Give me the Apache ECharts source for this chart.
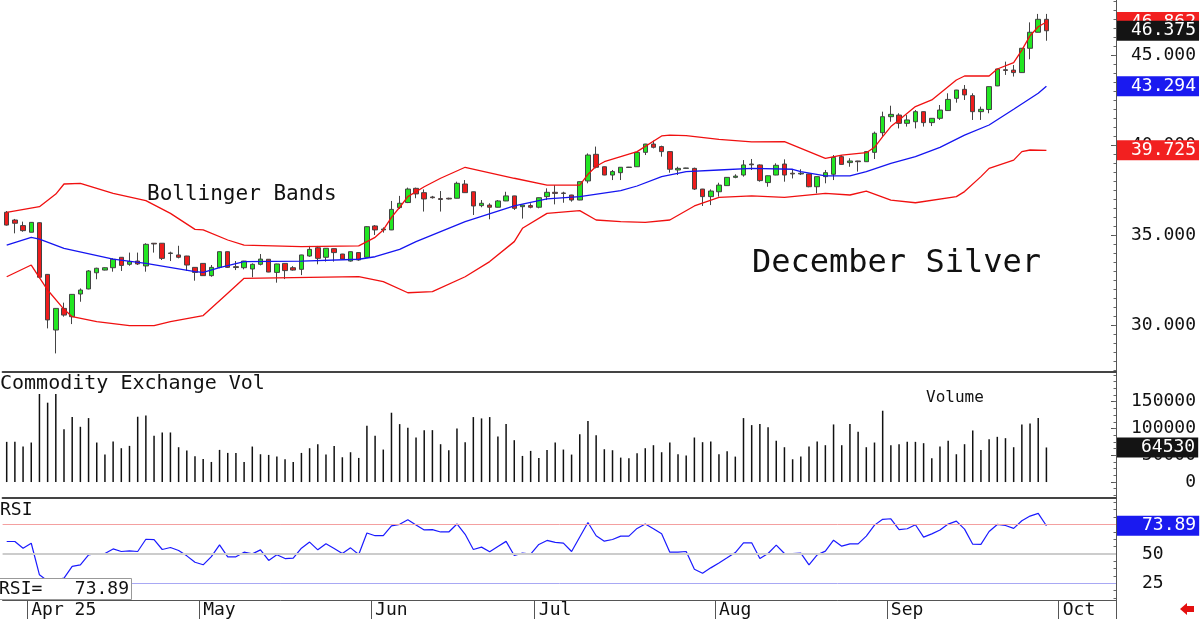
<!DOCTYPE html>
<html>
<head>
<meta charset="utf-8">
<script src="https://cdn.jsdelivr.net/npm/echarts@6/dist/echarts.min.js"></script>
<style>
  html, body { margin: 0; padding: 0; background: #fff; }
  #chart { width: 1200px; height: 619px; }
</style>
</head>
<body>
<div id="chart"></div>
<script>
// December Silver, daily bars (Mar 27 .. Sep 29 2025)
const open = [36.29,35.86,35.55,35.18,35.71,32.84,29.75,30.95,30.49,31.75,32.03,32.93,33.08,33.21,33.79,33.40,33.58,33.31,34.57,34.57,
  34.00,33.92,33.86,33.23,33.45,32.77,33.23,34.10,33.27,33.21,33.14,33.40,33.68,32.95,33.45,33.21,33.12,33.86,34.32,33.79,
  34.27,33.97,33.58,34.05,33.79,35.53,35.31,35.31,36.55,36.83,37.62,37.38,37.14,37.05,37.07,37.07,37.86,37.43,36.66,36.69,
  36.57,36.92,37.20,36.60,36.66,36.57,37.16,37.40,37.36,37.25,36.97,38.03,39.51,38.82,38.36,38.49,38.80,38.82,39.62,40.08,
  39.94,39.66,38.64,38.73,38.73,37.58,37.16,37.43,37.77,38.23,38.36,38.97,38.92,37.94,38.36,38.97,38.46,38.42,38.42,37.71,
  38.27,38.40,39.38,39.05,39.14,39.10,39.62,40.71,41.60,41.69,41.23,41.32,41.88,41.27,41.51,41.94,42.62,43.12,42.77,41.88,
  42.00,43.31,44.21,44.19,44.05,45.40,46.29,47.01];
const close = [35.58,35.68,35.27,35.73,32.68,30.31,30.95,30.58,31.73,31.97,33.03,33.18,33.21,33.68,33.34,33.55,33.42,34.51,34.53,33.73,
  34.03,33.79,33.36,32.95,32.77,33.23,34.10,33.23,33.22,33.58,33.40,33.69,32.97,33.42,33.05,33.08,33.92,34.23,33.73,34.29,
  34.05,33.69,34.10,33.64,35.49,35.31,35.36,36.45,36.79,37.58,37.31,37.03,37.10,37.00,37.03,37.90,37.38,36.64,36.79,36.57,
  36.92,37.20,36.51,36.69,36.57,37.10,37.40,37.34,37.34,36.97,37.99,39.47,38.79,38.36,38.55,38.79,38.78,39.62,40.08,39.90,
  39.66,38.68,38.73,38.75,37.58,37.16,37.47,37.80,38.23,38.30,38.92,38.93,38.05,38.32,38.90,38.36,38.42,38.46,37.71,38.27,
  38.49,39.34,38.95,39.14,39.10,39.66,40.68,41.60,41.73,41.23,41.42,41.88,41.27,41.51,41.97,42.56,43.08,42.81,41.88,42.01,
  43.27,44.25,44.17,44.05,45.40,46.29,47.01,46.375];
const low = [35.55,35.12,35.21,35.18,32.62,29.84,28.45,30.49,30.08,31.32,32.01,32.57,33.06,32.99,33.03,33.32,33.36,32.99,34.05,33.64,
  33.58,33.73,33.03,32.49,32.76,32.71,33.18,33.20,33.08,33.12,32.68,33.34,32.96,32.38,32.58,33.05,32.80,33.82,33.40,33.55,
  33.55,33.68,33.55,33.60,33.78,35.03,35.16,35.30,36.47,36.80,37.07,36.33,37.05,36.33,37.00,37.06,37.37,36.14,36.57,35.90,
  36.56,36.91,36.42,35.94,36.51,36.51,36.97,36.73,36.82,36.88,36.96,37.90,38.73,38.35,38.08,38.08,38.76,38.81,39.47,39.84,
  39.38,38.49,38.36,38.72,37.53,36.64,36.69,37.16,37.75,38.18,38.27,38.64,37.99,37.71,38.35,37.99,38.17,38.36,37.68,37.34,
  37.90,38.08,38.94,38.82,38.55,39.09,39.25,40.49,41.32,40.95,41.05,40.95,41.05,41.08,41.42,41.93,42.38,42.53,41.42,41.42,
  41.79,43.30,43.92,43.83,44.04,44.79,46.28,45.82];
const high = [36.36,35.92,35.77,35.75,35.73,32.86,30.97,31.27,31.75,32.06,33.08,33.21,33.23,33.73,33.80,34.05,34.05,34.57,34.58,34.58,
  34.10,34.43,33.87,33.24,33.46,33.36,34.11,34.11,33.58,33.59,33.45,33.97,33.69,33.43,33.46,33.30,33.93,34.42,34.42,34.30,
  34.28,33.98,34.11,34.06,35.52,35.58,35.45,36.92,37.20,37.66,37.66,37.56,37.20,37.47,37.10,37.99,38.08,37.44,36.97,36.79,
  36.97,37.43,37.21,36.70,36.79,37.11,37.62,37.80,37.43,37.26,38.00,39.56,39.94,38.83,38.64,38.80,38.81,39.63,40.09,40.27,
  39.99,39.67,38.82,38.76,38.77,37.59,37.56,37.93,38.24,38.40,39.19,39.25,38.95,38.33,39.01,39.23,38.64,38.68,38.43,38.28,
  38.64,39.47,39.47,39.29,39.15,39.67,40.77,41.88,42.21,41.79,41.69,41.97,41.89,41.52,42.25,42.90,43.09,43.36,42.90,42.16,
  43.28,44.26,44.66,44.47,45.41,46.84,47.31,47.31];

// Bollinger bands: [bar index, value]
const upperBand = [[0,36.29],[4,36.6],[6,37.3],[7,37.86],[9,37.9],[13,37.34],[17,36.94],[20,36.23],[23,35.34],[24,35.31],
  [27,34.75],[29,34.47],[36,34.38],[43,34.42],[45,34.9],[46,35.31],[47,36.01],[48,36.57],[49,37.16],[51,37.71],[53,38.18],
  [56,38.79],[62,38.18],[66,37.8],[70,37.8],[71,38.4],[72,38.85],[73,39.1],[77,39.66],[80,40.53],[81,40.58],[83,40.55],
  [87,40.34],[91,40.2],[95,40.21],[100,39.29],[102,39.47],[105,39.6],[106,39.9],[107,40.49],[108,41.05],[109,41.42],
  [111,42.16],[113,42.53],[116,43.64],[117,43.86],[120,43.86],[121,44.25],[123,44.6],[124,45.3],[125,46.1],[126,46.6],[127,46.862]];
const middleBand = [[0,34.47],[3,34.9],[4,34.8],[7,34.29],[13,33.69],[17,33.45],[23,32.99],[24,32.95],[26,33.21],[29,33.55],
  [36,33.58],[43,33.68],[45,33.82],[48,34.23],[50,34.66],[56,35.77],[62,36.64],[66,37.03],[70,37.16],[75,37.49],[77,37.75],
  [80,38.27],[83,38.55],[87,38.64],[91,38.73],[96,38.68],[97,38.55],[100,38.31],[103,38.31],[105,38.55],[108,39.01],
  [111,39.38],[114,39.9],[117,40.58],[120,41.14],[123,42.01],[126,42.9],[127,43.294]];
const lowerBand = [[0,32.71],[3,33.36],[5,31.97],[7,30.9],[8,30.49],[11,30.21],[15,29.99],[18,29.99],[20,30.21],[24,30.55],
  [27,31.79],[29,32.62],[43,32.71],[46,32.44],[49,31.82],[52,31.88],[56,32.71],[59,33.55],[62,34.66],[63,35.4],[66,36.23],
  [70,36.38],[72,35.86],[75,35.77],[78,35.73],[81,35.86],[84,36.64],[87,37.12],[91,37.2],[95,37.12],[100,37.34],[103,37.25],
  [105,37.47],[108,36.97],[111,36.82],[116,37.16],[117,37.44],[119,38.27],[120,38.73],[123,39.19],[124,39.66],[125,39.75],[127,39.725]];

const volume = [75000,75000,66250,73750,164375,148125,164375,98750,121250,103125,119375,73750,51250,75625,63125,67500,121875,124375,86250,92500,
  92500,65000,58750,48125,43125,37500,60000,54375,54375,37500,66250,51875,50625,47500,42500,37500,54375,63125,70625,51250,
  67500,46250,55625,45000,105000,86250,60625,129375,108125,101250,83125,96875,96875,70625,59375,100000,74375,121250,118750,121250,
  85000,108125,78125,48750,58125,45000,60000,73750,60625,51250,89375,113750,87500,61250,59375,45625,44375,53750,63125,68750,
  55625,73750,51875,49375,83125,74375,75625,51875,57500,47500,119375,106250,108125,102500,76875,65000,42500,47500,66250,75625,
  68750,107500,68750,108125,93750,65000,73750,133125,68750,70625,75000,75000,72500,44375,66250,76875,51875,70625,96250,60000,
  80000,84375,81875,65000,107500,109375,119375,64530];

const rsi = [60.5,60.5,54.8,59.0,32.2,27.0,28.0,29.4,39.3,40.7,49.2,50.3,50.3,54.2,52.0,52.5,52.0,62.4,62.1,53.7,
  55.4,52.8,48.3,42.9,40.7,47.7,57.6,47.5,47.5,51.4,50.0,53.4,44.4,49.2,46.0,46.3,54.8,60.0,53.4,58.6,
  54.6,50.3,55.1,49.4,67.7,65.4,65.4,73.7,75.1,78.9,74.6,70.3,70.6,68.6,68.6,75.4,66.6,53.7,55.7,51.7,
  56.3,60.6,48.6,50.6,49.7,58.0,61.4,59.7,59.1,52.0,64.3,76.6,65.4,60.8,62.2,65.1,65.1,71.6,75.3,71.3,
  67.0,51.4,51.4,52.0,36.9,33.5,38.1,42.3,46.6,51.1,59.4,59.4,46.0,50.3,57.4,50.3,50.3,50.6,40.6,49.1,
  52.3,61.6,56.5,58.5,58.5,65.1,74.4,79.3,79.8,70.5,71.3,74.7,64.2,67.0,70.2,75.3,77.8,71.0,58.2,58.0,
  69.0,75.0,74.1,71.6,78.1,82.1,84.4,73.89];

const priceTicks = [30, 35, 40, 45];
const volumeTicks = [0, 50000, 100000, 150000];
const rsiTicks = [25, 50, 75];
const monthNames = { '04': 'Apr 25', '05': 'May', '06': 'Jun', '07': 'Jul', '08': 'Aug', '09': 'Sep', '10': 'Oct' };
const holidays = ['2025-04-18', '2025-05-26', '2025-06-19', '2025-07-04', '2025-09-01'];

// trading-day slots, with some empty room after the last bar
const SLOTS = 136;
const dates = [];
for (let d = new Date(Date.UTC(2025, 2, 27)); dates.length < SLOTS; d.setUTCDate(d.getUTCDate() + 1)) {
  const s = d.toISOString().slice(0, 10);
  const dow = d.getUTCDay();
  if (dow === 0 || dow === 6 || holidays.includes(s)) continue;
  dates.push(s);
}
const isMonthStart = (i) => i > 0 && dates[i].slice(5, 7) !== dates[i - 1].slice(5, 7);

const candles = open.map((o, i) => [o, close[i], low[i], high[i]]);
const last = (a) => a[a.length - 1];
const lastPair = (a) => a[a.length - 1][1];

const MONO = "'DejaVu Sans Mono', monospace";

function steps(from, to, step) {
  const out = [];
  for (let v = from; v <= to + 1e-9; v += step) out.push(+v.toFixed(4));
  return out;
}

// value box drawn at the right end of an invisible mark line
function tag(value, bg, text, padLeft) {
  return {
    yAxis: value,
    lineStyle: { color: 'rgba(0,0,0,0)', width: 1 },
    label: {
      show: true,
      position: 'end',
      distance: 1,
      formatter: text,
      color: '#fff',
      backgroundColor: bg,
      fontFamily: MONO,
      fontSize: 18,
      padding: [1, 3, 0, padLeft],
      lineHeight: 19
    }
  };
}

const chart = echarts.init(document.getElementById('chart'), null, { renderer: 'canvas' });

const valueAxisBase = {
  type: 'value',
  position: 'right',
  scale: true,
  splitLine: { show: false },
  axisLine: { show: true, lineStyle: { color: '#555', width: 1 } }
};

const option = {
  animation: false,
  backgroundColor: '#fff',
  title: [
    { text: 'Bollinger Bands', left: 147, top: 184, padding: 0,
      textStyle: { fontFamily: MONO, fontSize: 21, fontWeight: 'normal', color: '#111' } },
    { text: 'December Silver', left: 752, top: 248, padding: 0,
      textStyle: { fontFamily: MONO, fontSize: 32, fontWeight: 'normal', color: '#111' } },
    { text: 'Commodity Exchange Vol', left: 0, top: 374, padding: 0,
      textStyle: { fontFamily: MONO, fontSize: 20, fontWeight: 'normal', color: '#111' } },
    { text: 'Volume', left: 926, top: 390, padding: 0,
      textStyle: { fontFamily: MONO, fontSize: 16, fontWeight: 'normal', color: '#111' } },
    { text: 'RSI', left: 0, top: 501, padding: 0,
      textStyle: { fontFamily: MONO, fontSize: 18, fontWeight: 'normal', color: '#111' } },
    { text: 'RSI=   ' + last(rsi).toFixed(2), left: -4, top: 578, padding: [2, 3, 1, 3],
      backgroundColor: '#fff', borderColor: '#999', borderWidth: 1,
      textStyle: { fontFamily: MONO, fontSize: 18, fontWeight: 'normal', color: '#111', lineHeight: 19 } }
  ],
  graphic: [
    { type: 'polygon', right: 6, bottom: 4, z: 100,
      shape: { points: [[0, 6], [7, 0], [7, 3], [14, 3], [14, 9], [7, 9], [7, 12]] },
      style: { fill: '#e41010' } }
  ],
  grid: [
    { left: 2.6, right: 84, top: 0, height: 372 },
    { left: 2.6, right: 84, top: 372, height: 125.7 },
    { left: 2.6, right: 84, top: 497.7, height: 102.6 }
  ],
  xAxis: [
    { type: 'category', gridIndex: 0, data: dates, boundaryGap: true,
      axisLine: { show: false }, axisTick: { show: false }, axisLabel: { show: false } },
    { type: 'category', gridIndex: 1, data: dates, boundaryGap: true, position: 'top',
      axisLine: { show: true, onZero: false, lineStyle: { color: '#444', width: 2 } },
      axisTick: { show: false }, axisLabel: { show: false } },
    { type: 'category', gridIndex: 2, data: dates, boundaryGap: true, position: 'top',
      axisLine: { show: true, onZero: false, lineStyle: { color: '#444', width: 2 } },
      axisTick: { show: false }, axisLabel: { show: false } },
    { type: 'category', gridIndex: 2, data: dates, boundaryGap: true, position: 'bottom',
      axisLine: { show: true, onZero: false, lineStyle: { color: '#555', width: 1 } },
      axisTick: { show: true, interval: (i) => isMonthStart(i), length: 19, lineStyle: { color: '#555' } },
      axisLabel: {
        show: true, interval: (i) => isMonthStart(i), align: 'left', margin: 1,
        formatter: (v) => monthNames[v.slice(5, 7)],
        fontFamily: MONO, fontSize: 18, color: '#111'
      } }
  ],
  yAxis: [
    Object.assign({}, valueAxisBase, {
      gridIndex: 0, min: 27.417, max: 48.083,
      axisTick: { show: true, inside: true, length: 5, customValues: priceTicks, lineStyle: { color: '#555' } },
      axisLabel: { show: true, customValues: priceTicks, formatter: (v) => v.toFixed(3),
        align: 'right', margin: 80, fontFamily: MONO, fontSize: 18, color: '#111' }
    }),
    Object.assign({}, valueAxisBase, {
      gridIndex: 0, min: 27.417, max: 48.083, axisLine: { show: false },
      axisTick: { show: true, inside: true, length: 2.5, customValues: steps(27.5, 48, 0.5), lineStyle: { color: '#666' } },
      axisLabel: { show: false }
    }),
    Object.assign({}, valueAxisBase, {
      gridIndex: 1, min: -29240, max: 205400,
      axisTick: { show: true, inside: true, length: 5, customValues: volumeTicks, lineStyle: { color: '#555' } },
      axisLabel: { show: true, customValues: volumeTicks, formatter: (v) => String(v),
        align: 'right', margin: 80, fontFamily: MONO, fontSize: 18, color: '#111' }
    }),
    Object.assign({}, valueAxisBase, {
      gridIndex: 1, min: -29240, max: 205400, axisLine: { show: false },
      axisTick: { show: true, inside: true, length: 2.5, customValues: steps(-25000, 200000, 12500), lineStyle: { color: '#666' } },
      axisLabel: { show: false }
    }),
    Object.assign({}, valueAxisBase, {
      gridIndex: 2, min: 10.8, max: 97.7,
      axisTick: { show: true, inside: true, length: 5, customValues: rsiTicks, lineStyle: { color: '#555' } },
      axisLabel: { show: true, customValues: rsiTicks, formatter: (v) => String(v),
        align: 'left', margin: 26, fontFamily: MONO, fontSize: 18, color: '#111' }
    }),
    Object.assign({}, valueAxisBase, {
      gridIndex: 2, min: 10.8, max: 97.7, axisLine: { show: false },
      axisTick: { show: true, inside: true, length: 2.5, customValues: steps(12.5, 97.5, 6.25), lineStyle: { color: '#666' } },
      axisLabel: { show: false }
    })
  ],
  series: [
    { name: 'Upper', type: 'line', xAxisIndex: 0, yAxisIndex: 0, data: upperBand,
      symbol: 'none', lineStyle: { color: '#f01010', width: 1.3 },
      markLine: { silent: true, symbol: 'none', data: [tag(lastPair(upperBand), '#f22020', lastPair(upperBand).toFixed(3), 14)] } },
    { name: 'Middle', type: 'line', xAxisIndex: 0, yAxisIndex: 0, data: middleBand,
      symbol: 'none', lineStyle: { color: '#1515f0', width: 1.3 },
      markLine: { silent: true, symbol: 'none', data: [tag(lastPair(middleBand), '#1a1af0', lastPair(middleBand).toFixed(3), 14)] } },
    { name: 'Lower', type: 'line', xAxisIndex: 0, yAxisIndex: 0, data: lowerBand,
      symbol: 'none', lineStyle: { color: '#f01010', width: 1.3 },
      markLine: { silent: true, symbol: 'none', data: [tag(lastPair(lowerBand), '#f22020', lastPair(lowerBand).toFixed(3), 14)] } },
    { name: 'Silver', type: 'candlestick', xAxisIndex: 0, yAxisIndex: 0, data: candles,
      barWidth: 5,
      itemStyle: { color: '#22e622', color0: '#ee1c1c', borderColor: '#444', borderColor0: '#444', borderWidth: 1 },
      markLine: { silent: true, symbol: 'none', data: [tag(last(close), '#141414', last(close).toFixed(3), 14)] } },
    { name: 'Volume', type: 'bar', xAxisIndex: 1, yAxisIndex: 2, data: volume,
      barWidth: 1.5, itemStyle: { color: '#111' },
      markLine: { silent: true, symbol: 'none', data: [tag(last(volume), '#141414', String(last(volume)), 24)] } },
    { name: 'RSI', type: 'line', xAxisIndex: 2, yAxisIndex: 4, data: rsi,
      symbol: 'none', lineStyle: { color: '#1a1aff', width: 1.2 },
      markLine: {
        silent: true, symbol: 'none',
        label: { show: false },
        data: [
          { yAxis: 75, lineStyle: { color: '#f4a0a0', width: 1, type: 'solid' } },
          { yAxis: 50, lineStyle: { color: '#cccccc', width: 2, type: 'solid' } },
          { yAxis: 25, lineStyle: { color: '#a8a8f4', width: 1, type: 'solid' } },
          tag(last(rsi), '#1a1af0', last(rsi).toFixed(2), 25)
        ]
      } }
  ]
};

chart.setOption(option);
</script>
</body>
</html>
